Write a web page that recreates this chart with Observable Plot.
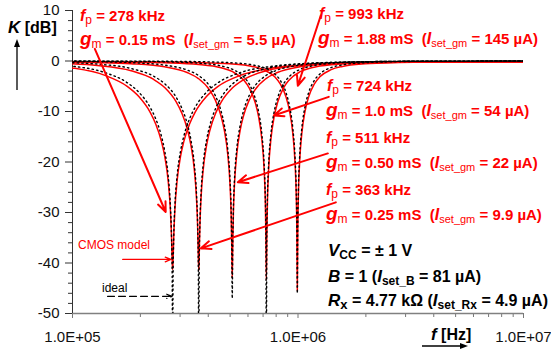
<!DOCTYPE html>
<html><head><meta charset="utf-8">
<script src="https://cdn.jsdelivr.net/npm/d3@7"></script>
<script src="https://cdn.jsdelivr.net/npm/@observablehq/plot@0.6"></script>
<style>
body{margin:0;background:#fff;}
#chart{position:relative;width:551px;height:358px;}
svg{font-family:"Liberation Sans",Arial,sans-serif;}
</style></head><body><div id="chart"></div>
<script>
// notch frequencies and labels
const fp = [278e3, 363e3, 511e3, 724e3, 993e3];
const fpLabels = ["278 kHz", "363 kHz", "511 kHz", "724 kHz", "993 kHz"];
const gmLabels = ["0.15 mS", "0.25 mS", "0.50 mS", "1.0 mS", "1.88 mS"];
const isetLabels = ["5.5 µA", "9.9 µA", "22 µA", "54 µA", "145 µA"];

// sample points, in decades from each notch frequency
const offsets = [-1.6,-1.3,-1.0,-0.8,-0.6,-0.45,-0.3,-0.2,-0.15,-0.1,-0.075,-0.05,-0.035,-0.02,-0.01,-0.005,-0.002,0,0.002,0.005,0.01,0.02,0.035,0.05,0.075,0.1,0.15,0.2,0.3,0.45,0.6,0.8,1.0,1.3,1.6];

// K [dB]: ideal (dotted) and CMOS model (red)
const ideal278 = [0,-0.02,-0.07,-0.18,-0.46,-0.99,-2.3,-4.34,-6.18,-9.16,-11.45,-14.82,-17.85,-22.67,-28.68,-34.69,-42.65,-60,-42.65,-34.69,-28.68,-22.67,-17.85,-14.82,-11.45,-9.16,-6.18,-4.34,-2.3,-0.99,-0.46,-0.18,-0.07,-0.02,0];
const cmos278 = [-0.15,-0.17,-0.24,-0.37,-0.71,-1.34,-2.85,-5.07,-7.03,-10.11,-12.46,-15.86,-18.89,-23.66,-29.46,-34.69,-39.33,-41.3,-39.33,-34.69,-29.46,-23.66,-18.89,-15.86,-12.46,-10.11,-7.03,-5.07,-2.85,-1.34,-0.71,-0.37,-0.24,-0.17,-0.15];
const ideal363 = [0,-0.01,-0.04,-0.1,-0.28,-0.61,-1.49,-3.02,-4.54,-7.19,-9.35,-12.6,-15.58,-20.37,-26.36,-32.37,-40.33,-60,-40.33,-32.37,-26.36,-20.37,-15.58,-12.6,-9.35,-7.19,-4.54,-3.02,-1.49,-0.61,-0.28,-0.1,-0.04,-0.01,0];
const cmos363 = [-0.15,-0.16,-0.2,-0.27,-0.49,-0.89,-1.93,-3.65,-5.3,-8.09,-10.32,-13.61,-16.62,-21.4,-27.26,-32.81,-38.44,-41.5,-38.44,-32.81,-27.26,-21.4,-16.62,-13.61,-10.32,-8.09,-5.3,-3.65,-1.93,-0.89,-0.49,-0.27,-0.2,-0.16,-0.15];
const ideal511 = [0,0,-0.02,-0.05,-0.14,-0.32,-0.82,-1.79,-2.86,-4.97,-6.85,-9.86,-12.74,-17.44,-23.41,-29.41,-37.37,-47,-37.37,-29.41,-23.41,-17.44,-12.74,-9.86,-6.85,-4.97,-2.86,-1.79,-0.82,-0.32,-0.14,-0.05,-0.02,0,0];
const cmos511 = [-0.15,-0.15,-0.17,-0.21,-0.32,-0.54,-1.14,-2.28,-3.48,-5.76,-7.74,-10.84,-13.76,-18.5,-24.42,-30.24,-37.14,-43,-37.14,-30.24,-24.42,-18.5,-13.76,-10.84,-7.74,-5.76,-3.48,-2.28,-1.14,-0.54,-0.32,-0.21,-0.17,-0.15,-0.15];
const ideal724 = [0,0,-0.01,-0.03,-0.07,-0.16,-0.43,-0.98,-1.66,-3.16,-4.65,-7.28,-9.95,-14.51,-20.41,-26.4,-34.36,-60,-34.36,-26.4,-20.41,-14.51,-9.95,-7.28,-4.65,-3.16,-1.66,-0.98,-0.43,-0.16,-0.07,-0.03,-0.01,0,0];
const cmos724 = [-0.15,-0.15,-0.16,-0.18,-0.24,-0.35,-0.67,-1.33,-2.12,-3.8,-5.42,-8.18,-10.93,-15.55,-21.46,-27.36,-34.77,-43.3,-34.77,-27.36,-21.46,-15.55,-10.93,-8.18,-5.42,-3.8,-2.12,-1.33,-0.67,-0.35,-0.24,-0.18,-0.16,-0.15,-0.15];
const ideal993 = [0,0,-0.01,-0.02,-0.05,-0.12,-0.33,-0.76,-1.3,-2.56,-3.88,-6.29,-8.85,-13.31,-19.18,-25.16,-33.11,-46,-33.11,-25.16,-19.18,-13.31,-8.85,-6.29,-3.88,-2.56,-1.3,-0.76,-0.33,-0.12,-0.05,-0.02,-0.01,0,0];
const cmos993 = [-0.15,-0.15,-0.16,-0.18,-0.21,-0.3,-0.55,-1.07,-1.71,-3.14,-4.59,-7.15,-9.8,-14.33,-20.25,-26.18,-33.87,-45.5,-33.87,-26.18,-20.25,-14.33,-9.8,-7.15,-4.59,-3.14,-1.71,-1.07,-0.55,-0.3,-0.21,-0.18,-0.16,-0.15,-0.15];

// axes
const xTicks = [1e5, 1e6, 1e7];
const xTickLabels = ["1.0E+05", "1.0E+06", "1.0E+07"];
const xMinor = [2e5,3e5,4e5,5e5,6e5,7e5,8e5,9e5,2e6,3e6,4e6,5e6,6e6,7e6,8e6,9e6];
const yTicks = [-50,-40,-30,-20,-10,0,10];
const yMinor = [-48,-46,-44,-42,-38,-36,-34,-32,-28,-26,-24,-22,-18,-16,-14,-12,-8,-6,-4,-2,2,4,6,8];

// annotation arrows [f1, dB1, f2, dB2]
const redArrows = [
  [125.6e3, 2.4, 259e3, -29.9],
  [1.262e6, 9.0, 998e3, -4.9],
  [1.369e6, -7.1, 781e3, -10.8],
  [1.356e6, -18.3, 541e3, -24.0],
  [1.471e6, -28.0, 371e3, -37.1]
];
const cmosArrow = [[167e3, -39.3, 273e3, -39.3]];
const idealArrow = [[143e3, -46.6, 276e3, -46.6]];

const idealSets = [ideal278, ideal363, ideal511, ideal724, ideal993];
const cmosSets = [cmos278, cmos363, cmos511, cmos724, cmos993];
const toRows = (sets) => sets.flatMap((vals, i) => vals.map((v, j) => ({f: fp[i] * Math.pow(10, offsets[j]), db: v, c: i})));
const idealRows = toRows(idealSets);
const cmosRows = toRows(cmosSets);

const RED = "#ff0000";
const chart = Plot.plot({
  width: 551, height: 358,
  marginLeft: 72, marginRight: 28, marginTop: 10, marginBottom: 45,
  style: {fontFamily: "'Liberation Sans', Arial, sans-serif", background: "#fff", overflow: "visible"},
  x: {type: "log", domain: [1e5, 1e7]},
  y: {domain: [-50, 10]},
  marks: [
    Plot.axisY(yMinor, {tickSize: 4, fill: "none", label: null, stroke: "#333"}),
    Plot.axisY(yTicks, {tickSize: 7, fill: "none", label: null, stroke: "#333"}),
    Plot.axisY(yTicks, {tickSize: 0, tickPadding: 13, fontSize: 15, fill: "#111", label: null, tickFormat: d => String(d)}),
    Plot.axisX(xMinor, {tickSize: 4, fill: "none", label: null, stroke: "#777"}),
    Plot.axisX(xTicks, {tickSize: 5, tickPadding: 13, fontSize: 15, fill: "#111", stroke: "#777", label: null, tickFormat: d => xTickLabels[xTicks.indexOf(d)]}),
    Plot.ruleY([-50], {stroke: "#808080", strokeWidth: 1.5}),
    Plot.ruleX([1e5], {stroke: "#333", strokeWidth: 1}),
    Plot.line(cmosRows, {x: "f", y: "db", z: "c", stroke: RED, strokeWidth: 1.5, curve: "monotone-x", clip: true}),
    Plot.line(idealRows, {x: "f", y: "db", z: "c", stroke: "#000", strokeWidth: 1.4, strokeDasharray: "1.4 3.2", curve: "monotone-x", clip: true}),
    Plot.arrow(redArrows, {x1: d => d[0], y1: d => d[1], x2: d => d[2], y2: d => d[3], stroke: RED, strokeWidth: 2, headLength: 8, headAngle: 45}),
    Plot.arrow(cmosArrow, {x1: d => d[0], y1: d => d[1], x2: d => d[2], y2: d => d[3], stroke: RED, strokeWidth: 1.3, headLength: 7, headAngle: 45}),
    Plot.arrow(idealArrow, {x1: d => d[0], y1: d => d[1], x2: d => d[2], y2: d => d[3], stroke: "#000", strokeWidth: 1.2, strokeDasharray: "7 4", headLength: 7, headAngle: 45})
  ]
});
document.getElementById("chart").appendChild(chart);

// rich text annotations
const svg = d3.select(chart);
const g = svg.append("g").attr("font-family", "'Liberation Sans', Arial, sans-serif").attr("text-anchor", "start");
function rich(x, y, parts, fill) {
  const t = g.append("text").attr("x", x).attr("y", y).attr("fill", fill).attr("text-anchor", "start").style("white-space", "pre");
  let cur = 0;
  for (const [s, fs, w, it, sh] of parts) {
    t.append("tspan").attr("font-size", fs).attr("font-weight", w)
      .attr("font-style", it ? "italic" : "normal").attr("dy", sh - cur).text(s);
    cur = sh;
  }
}
const fpPos = [[80, 21], [326, 195], [326, 143], [327, 91], [319, 19]];
const gmPos = [[80, 45], [326, 220], [326, 168], [326, 116], [318, 44]];
fp.forEach((f, i) => {
  rich(fpPos[i][0], fpPos[i][1], [["f", 16, "bold", 1, 0], ["p", 12, "normal", 0, 3], [" = " + fpLabels[i], 15, "bold", 0, 0]], RED);
  rich(gmPos[i][0], gmPos[i][1], [["g", 19, "bold", 1, 0], ["m", 12, "normal", 0, 3], [" = " + gmLabels[i] + "  (", 15, "bold", 0, 0],
    ["I", 16, "bold", 1, 0], ["set_gm", 11, "normal", 0, 3], [" = " + isetLabels[i] + ")", 15, "bold", 0, 0]], RED);
});
rich(328, 256, [["V", 17, "bold", 1, 0], ["CC", 12, "bold", 0, 3], [" = ± 1 V", 16, "bold", 0, 0]], "#000");
rich(328, 282, [["B", 17, "bold", 1, 0], [" = 1 (", 16, "bold", 0, 0], ["I", 17, "bold", 1, 0], ["set_B", 12, "bold", 0, 3], [" = 81 µA)", 16, "bold", 0, 0]], "#000");
rich(328, 306, [["R", 17, "bold", 1, 0], ["x", 13, "bold", 0, 3], [" = 4.77 kΩ (", 16, "bold", 0, 0], ["I", 17, "bold", 1, 0], ["set_Rx", 12, "bold", 0, 3], [" = 4.9 µA)", 16, "bold", 0, 0]], "#000");
rich(8, 33, [["K", 17, "bold", 1, 0], [" [dB]", 16, "bold", 0, 0]], "#000");
rich(431, 340, [["f", 17, "bold", 1, 0], [" [Hz]", 16, "bold", 0, 0]], "#000");
g.append("text").attr("x", 78).attr("y", 249).attr("fill", RED).attr("font-size", 12).text("CMOS model");
g.append("text").attr("x", 102).attr("y", 292).attr("fill", "#000").attr("font-size", 12).text("ideal");
// axis-title arrows
g.append("line").attr("x1", 17).attr("y1", 90).attr("x2", 17).attr("y2", 44).attr("stroke", "#000").attr("stroke-width", 1.3);
g.append("path").attr("d", "M17,39 L14,47 L20,47 Z").attr("fill", "#000");
g.append("line").attr("x1", 422).attr("y1", 346).attr("x2", 462).attr("y2", 346).attr("stroke", "#000").attr("stroke-width", 1.3);
g.append("path").attr("d", "M468,346 L460,343 L460,349 Z").attr("fill", "#000");
</script></body></html>
